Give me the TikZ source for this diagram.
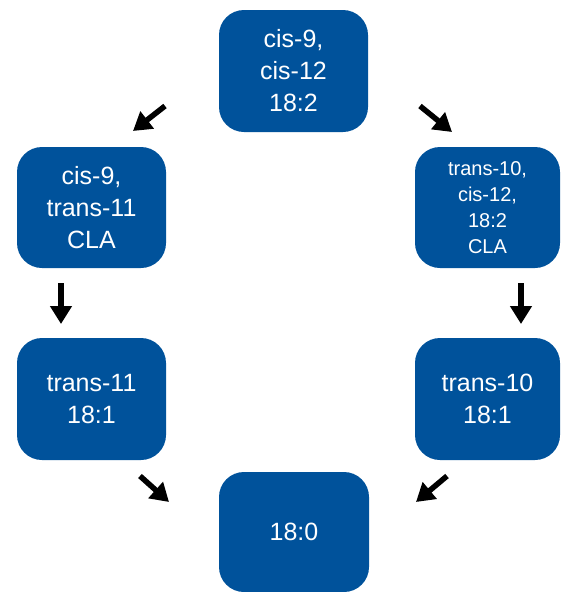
\documentclass[tikz,border=0pt]{standalone}
\usepackage{fontspec}
\setmainfont{Liberation Sans}
\usetikzlibrary{arrows.meta}
\definecolor{boxblue}{RGB}{0,82,155}
\tikzset{
  box/.style={fill=boxblue, draw=none, rounded corners=25pt, text=white, align=center,
    inner sep=0pt, font=\fontsize{25}{32}\selectfont},
  small/.style={font=\fontsize{20}{26}\selectfont},
  arr/.style={line width=5.5pt, -{Triangle[width=21pt,length=18pt]}, black}
}
\begin{document}
\begin{tikzpicture}[x=1pt,y=-1pt]
\useasboundingbox (0,0) rectangle (560,592);
\node[box, minimum width=149pt, minimum height=122pt] (top) at (293.5,71) {cis-9,\\cis-12\\18:2};
\node[box, minimum width=149pt, minimum height=121pt] (lm) at (91.5,207.5) {cis-9,\\trans-11\\CLA};
\node[box, small, minimum width=145pt, minimum height=121pt] (rm) at (487.5,207.5) {trans-10,\\cis-12,\\18:2\\CLA};
\node[box, minimum width=149pt, minimum height=122pt] (lb) at (91.5,399) {trans-11\\18:1};
\node[box, minimum width=145pt, minimum height=122pt] (rb) at (487.5,399) {trans-10\\18:1};
\node[box, minimum width=150pt, minimum height=120pt] (bot) at (294,532) {18:0};
\coordinate (a1s) at (165,106); \coordinate (a1e) at (133,131);
\coordinate (a2s) at (420,106); \coordinate (a2e) at (452,132);
\coordinate (a3s) at (61,283);  \coordinate (a3e) at (61,324);
\coordinate (a4s) at (521,283); \coordinate (a4e) at (521,324);
\coordinate (a5s) at (140,476); \coordinate (a5e) at (169,502);
\coordinate (a6s) at (447,476); \coordinate (a6e) at (416,502);
\draw[arr] (a1s) -- (a1e);
\draw[arr] (a2s) -- (a2e);
\draw[arr] (a3s) -- (a3e);
\draw[arr] (a4s) -- (a4e);
\draw[arr] (a5s) -- (a5e);
\draw[arr] (a6s) -- (a6e);
\end{tikzpicture}
\end{document}
